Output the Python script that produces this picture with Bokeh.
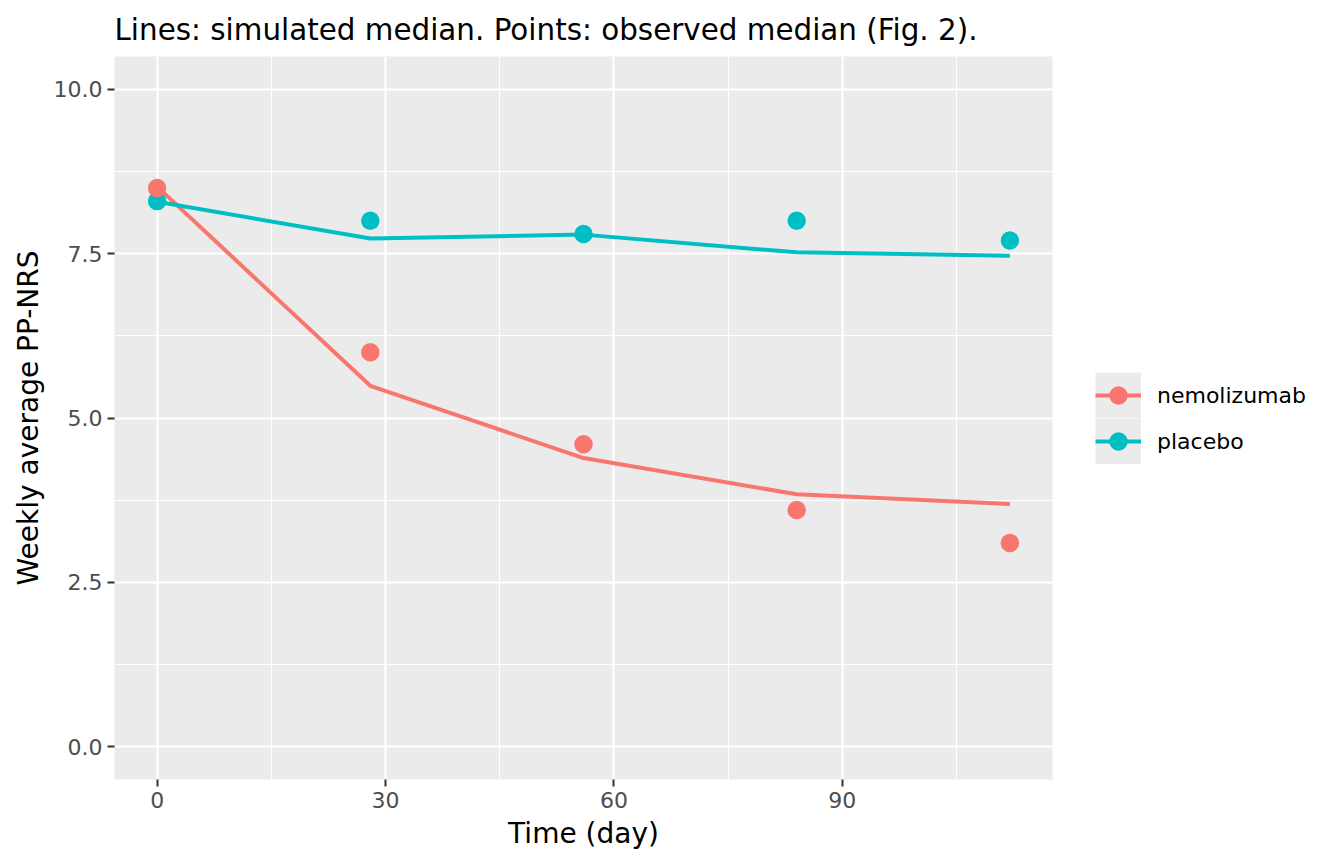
from bokeh.plotting import figure
from bokeh.models import Range1d, FixedTicker, Legend, LegendItem
from bokeh.embed import file_html
from bokeh.resources import INLINE

# data (Fig. 2)
days = [0, 28, 56, 84, 112]
nemo_obs = [8.5, 6.0, 4.6, 3.6, 3.1]
placebo_obs = [8.3, 8.0, 7.8, 8.0, 7.7]
nemo_sim = [8.52, 5.49, 4.39, 3.84, 3.69]
placebo_sim = [8.29, 7.73, 7.79, 7.52, 7.47]

x_ticks = [0, 30, 60, 90]
x_minor = [15, 45, 75, 105]
y_ticks = [0, 2.5, 5, 7.5, 10]
y_minor = [1.25, 3.75, 6.25, 8.75]
y_tick_labels = ["0.0", "2.5", "5.0", "7.5", "10.0"]

groups = ["nemolizumab", "placebo"]
colors = {"nemolizumab": "#F8766D", "placebo": "#00BFC4"}

FONT = "DejaVu Sans"

p = figure(frame_width=938, frame_height=723,
           min_border_left=114, min_border_right=292,
           min_border_top=56, min_border_bottom=85,
           x_range=Range1d(-5.6, 117.6), y_range=Range1d(-0.5, 10.5),
           output_backend="svg", toolbar_location=None,
           title="Lines: simulated median. Points: observed median (Fig. 2).")

p.background_fill_color = "#EBEBEB"
p.border_fill_color = "white"
p.outline_line_color = None

p.title.text_font = FONT
p.title.text_font_size = "29.4px"
p.title.text_font_style = "normal"
p.title.text_color = "black"
p.title.align = "left"
p.title.standoff = 20

p.xaxis.ticker = FixedTicker(ticks=x_ticks, minor_ticks=x_minor)
p.yaxis.ticker = FixedTicker(ticks=y_ticks, minor_ticks=y_minor)
p.yaxis.major_label_overrides = {t: s for t, s in zip(y_ticks, y_tick_labels)}

for ax in (p.xaxis[0], p.yaxis[0]):
    ax.axis_line_color = None
    ax.minor_tick_line_color = None
    ax.major_tick_in = 0
    ax.major_tick_out = 7
    ax.major_tick_line_color = "#333333"
    ax.major_tick_line_width = 2
    ax.major_label_text_font = FONT
    ax.major_label_text_font_size = "22px"
    ax.major_label_text_color = "#4D4D4D"
    ax.major_label_standoff = 5
    ax.axis_label_text_font = FONT
    ax.axis_label_text_font_size = "28px"
    ax.axis_label_text_font_style = "normal"
    ax.axis_label_text_color = "black"
    ax.axis_label_standoff = 6

p.xaxis.axis_label = "Time (day)"
p.yaxis.axis_label = "Weekly average PP-NRS"

p.grid.grid_line_color = "white"
p.grid.grid_line_width = 2.2
p.grid.minor_grid_line_color = "white"
p.grid.minor_grid_line_width = 1.1

# gray key square behind each legend glyph: a wide line kept outside the ranges
key_bg = p.line(x=[-100, -99], y=[-100, -100], line_color="#EBEBEB", line_width=46, line_cap="butt")

lines = {}
lines["nemolizumab"] = p.line(days, nemo_sim, line_color=colors["nemolizumab"], line_width=4)
lines["placebo"] = p.line(days, placebo_sim, line_color=colors["placebo"], line_width=4)
pts = {}
pts["placebo"] = p.scatter(days, placebo_obs, size=18.5, fill_color=colors["placebo"], line_color=None)
pts["nemolizumab"] = p.scatter(days, nemo_obs, size=18.5, fill_color=colors["nemolizumab"], line_color=None)

legend = Legend(items=[LegendItem(label=g, renderers=[key_bg, lines[g], pts[g]]) for g in groups],
                location=(43, 315), glyph_width=46, glyph_height=46,
                padding=0, margin=0, spacing=0, label_standoff=16,
                background_fill_alpha=0, border_line_color=None,
                label_text_font=FONT, label_text_font_size="22px",
                label_text_color="black", label_height=46)
p.add_layout(legend, "right")

open("out.html", "w").write(file_html(p, INLINE))
